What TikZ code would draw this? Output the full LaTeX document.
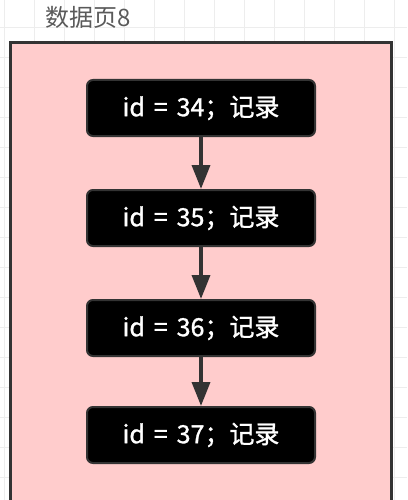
\documentclass[tikz,border=0pt]{standalone}
\usepackage{fontspec}
\setmainfont{Noto Sans CJK SC}
\newfontfamily\recfont[FakeBold=1.2,WordSpace=1.6]{Noto Sans CJK SC}
\usetikzlibrary{arrows.meta}
\definecolor{pagefill}{HTML}{FFCCCC}
\definecolor{edgegray}{HTML}{333333}
\definecolor{gridgray}{HTML}{EDEDED}
\definecolor{titlegray}{HTML}{5A5A5A}

\begin{document}
\begin{tikzpicture}[x=1pt,y=1pt]
\tikzstyle{every node}+=[inner sep=0pt]
\tikzstyle{pagebox}=[draw=edgegray, fill=pagefill, line width=3pt, minimum width=381pt, minimum height=600pt, anchor=north]
\tikzstyle{record}=[draw=edgegray, fill=black, line width=2pt, rounded corners=6pt, minimum width=228pt, minimum height=56pt, text=white, font=\recfont\fontsize{25}{30}\selectfont]
\tikzstyle{next}=[draw=edgegray, line width=3.5pt, -{Triangle[length=24pt,width=18pt]}]

\useasboundingbox (0,0) rectangle (407,-500);
\clip (0,0) rectangle (407,-500);
\fill [white] (0,0) rectangle (407,-500);
\foreach \x in {4,34,...,394} \draw [gridgray, line width=0.8pt] (\x,0) -- (\x,-500);
\foreach \y in {-27,-57,...,-477} \draw [gridgray, line width=0.8pt] (0,\y) -- (407,\y);

\node [text=titlegray, font=\fontsize{24}{28}\selectfont] (title) at (88,-17) {数据页8};
\node [pagebox] (page8) at (201,-41.5) {};

\node [record] (r34) at (201,-108) {id = 34；记录};
\node [record] (r35) at (201,-218) {id = 35；记录};
\node [record] (r36) at (201,-328) {id = 36；记录};
\node [record] (r37) at (201,-435) {id = 37；记录};

\draw [next] (r34) -- (r35);
\draw [next] (r35) -- (r36);
\draw [next] (r36) -- (r37);
\end{tikzpicture}
\end{document}
